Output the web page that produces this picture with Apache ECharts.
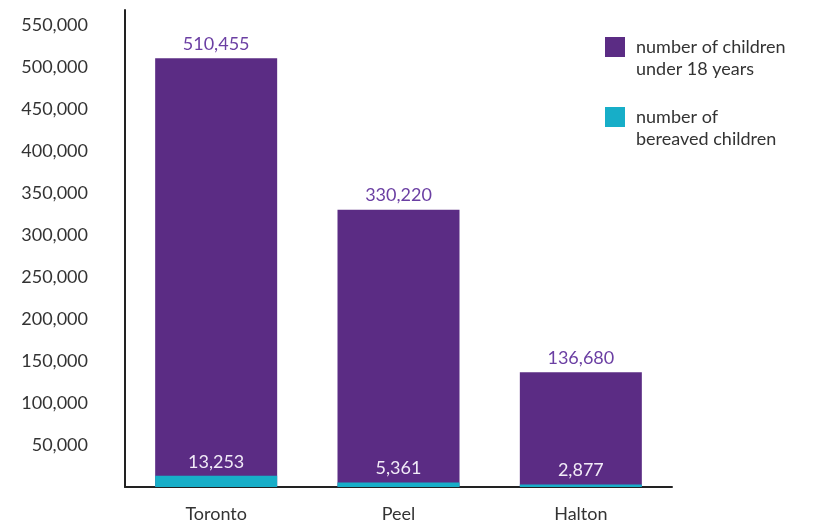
<!DOCTYPE html>
<html>
<head>
<meta charset="utf-8">
<script src="https://cdn.jsdelivr.net/npm/echarts@6/dist/echarts.min.js"></script>
<style>
html,body{margin:0;padding:0;background:#fff;}
#chart{width:814px;height:525px;}
</style>
</head>
<body>
<div id="chart"></div>
<script>
const categories = ['Toronto', 'Peel', 'Halton'];
const childrenUnder18 = [510455, 330220, 136680];
const bereavedChildren = [13253, 5361, 2877];
const seriesNames = ['number of children under 18 years', 'number of bereaved children'];
const legendLabels = ['number of children\nunder 18 years', 'number of\nbereaved children'];

const fmt = v => Number(v).toLocaleString('en-US');
const FONT = 'Lato';
const FS = 18;

const chart = echarts.init(document.getElementById('chart'), null, {renderer: 'canvas'});
chart.setOption({
  backgroundColor: '#ffffff',
  animation: false,
  textStyle: {fontFamily: FONT},
  grid: {left: 125, right: 142, top: 10, bottom: 38},
  legend: {
    orient: 'vertical',
    left: 605,
    top: 14,
    padding: 0,
    itemWidth: 20,
    itemHeight: 20,
    itemGap: 4,
    icon: 'rect',
    data: seriesNames,
    formatter: name => '\n' + legendLabels[seriesNames.indexOf(name)],
    textStyle: {fontFamily: FONT, fontSize: FS, color: '#333', lineHeight: 22, padding: [0, 0, 0, 6]}
  },
  xAxis: {
    type: 'category',
    data: categories,
    axisLine: {lineStyle: {color: '#222', width: 2}},
    axisTick: {show: false},
    axisLabel: {fontFamily: FONT, fontSize: FS, color: '#333', margin: 18}
  },
  yAxis: {
    type: 'value',
    min: 0,
    max: 568000,
    interval: 50000,
    axisLine: {show: true, lineStyle: {color: '#222', width: 2}},
    axisTick: {show: false},
    splitLine: {show: false},
    axisLabel: {
      fontFamily: FONT, fontSize: FS, color: '#333', margin: 37,
      showMinLabel: false, showMaxLabel: false,
      formatter: v => fmt(v)
    }
  },
  series: [
    {
      name: seriesNames[0],
      type: 'bar',
      data: childrenUnder18,
      barWidth: 122,
      barGap: '-100%',
      itemStyle: {color: '#5b2c84'},
      label: {show: true, position: 'top', distance: 5, fontFamily: FONT, fontSize: FS, color: '#6b3fa3', formatter: p => fmt(p.value)}
    },
    {
      name: seriesNames[1],
      type: 'bar',
      data: bereavedChildren,
      barWidth: 122,
      barGap: '-100%',
      itemStyle: {color: '#17aec8'},
      label: {show: true, position: 'top', distance: 5, fontFamily: FONT, fontSize: FS, color: '#f1ebf7', formatter: p => fmt(p.value)}
    }
  ]
});
</script>
</body>
</html>
